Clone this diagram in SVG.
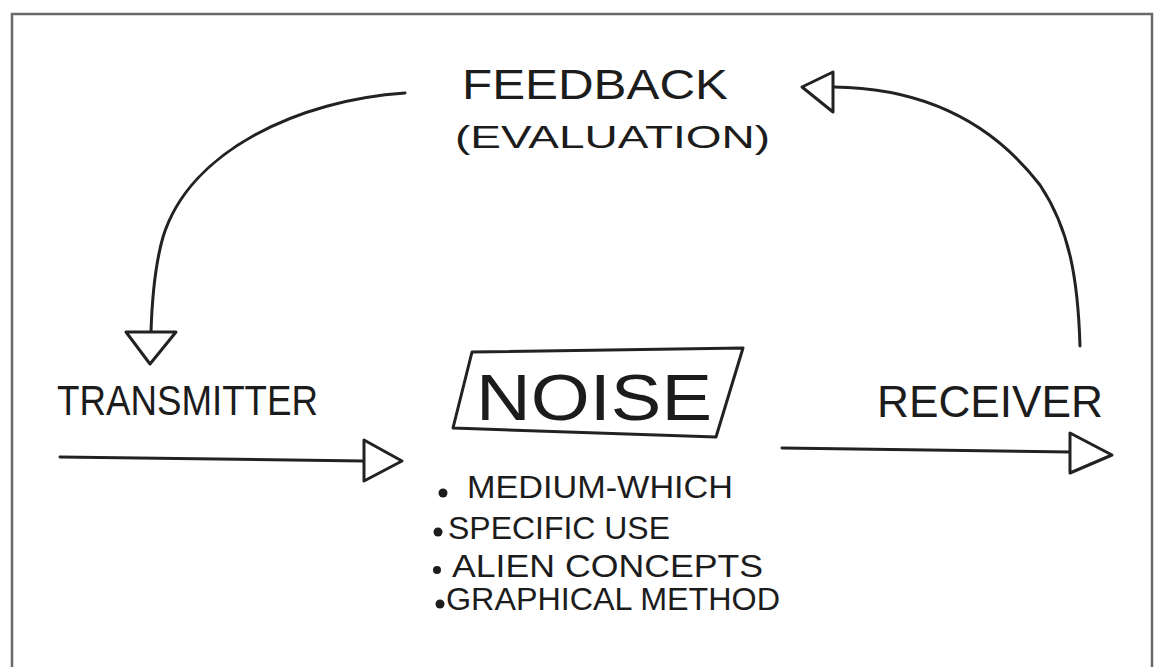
<svg xmlns="http://www.w3.org/2000/svg" width="1156" height="667" viewBox="0 0 1156 667">
<style>
.t{font-family:"Liberation Sans","DejaVu Sans",sans-serif;fill:#1c1c1c;font-weight:normal}
.ln{fill:none;stroke:#222;stroke-width:3;stroke-linecap:round;stroke-linejoin:round}
.ah{fill:#fff;stroke:#222;stroke-width:3;stroke-linejoin:round}
.dot{fill:#1c1c1c}
</style>
<rect width="1156" height="667" fill="#fff"/>
<path d="M12,680 L12,14 L1152,14 L1152,680" fill="none" stroke="#6a6a6a" stroke-width="2.5"/>
<g id="connectors">
<path class="ln" d="M405,93 C300,100 190,150 163,237 C155,265 152,300 151,332"/>
<polygon class="ah" points="126,332 176,332 150,364"/>
<path class="ln" d="M1080,346 C1078,280 1070,230 1040,185 C990,120 920,88 834,87"/>
<polygon class="ah" points="833,72 833,112 802,87"/>
<path class="ln" d="M60,457 L364,461"/>
<polygon class="ah" points="364,440 364,481 402,461"/>
<path class="ln" d="M782,448 L1070,452"/>
<polygon class="ah" points="1070,433 1070,473 1112,455"/>
</g>
<g id="feedback">
<text class="t" x="462" y="99" font-size="42" textLength="266" lengthAdjust="spacingAndGlyphs">FEEDBACK</text>
<text class="t" x="455" y="148" font-size="32" textLength="315" lengthAdjust="spacingAndGlyphs">(EVALUATION)</text>
</g>
<g id="transmitter">
<text class="t" x="57" y="415" font-size="42" textLength="261" lengthAdjust="spacingAndGlyphs">TRANSMITTER</text>
</g>
<g id="receiver">
<text class="t" x="877" y="417" font-size="44" textLength="226" lengthAdjust="spacingAndGlyphs">RECEIVER</text>
</g>
<g id="noise">
<path class="ln" d="M472,352 L743,348 L716,437 L453,428 Z"/>
<text class="t" x="476" y="420" font-size="64" textLength="236" lengthAdjust="spacingAndGlyphs">NOISE</text>
</g>
<g id="noise-list">
<circle class="dot" cx="443" cy="493" r="4.5"/>
<text class="t" x="467" y="498" font-size="31" textLength="266" lengthAdjust="spacingAndGlyphs">MEDIUM-WHICH</text>
<circle class="dot" cx="438" cy="532" r="4.5"/>
<text class="t" x="448" y="539" font-size="31" textLength="222" lengthAdjust="spacingAndGlyphs">SPECIFIC USE</text>
<circle class="dot" cx="437" cy="570" r="4"/>
<text class="t" x="452" y="577" font-size="31" textLength="311" lengthAdjust="spacingAndGlyphs">ALIEN CONCEPTS</text>
<circle class="dot" cx="440" cy="604" r="4.5"/>
<text class="t" x="446" y="610" font-size="31" textLength="334" lengthAdjust="spacingAndGlyphs">GRAPHICAL METHOD</text>
</g>
</svg>
